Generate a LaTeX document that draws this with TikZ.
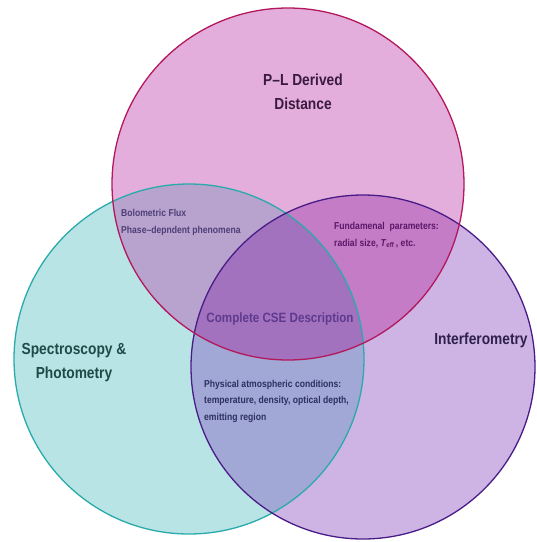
\documentclass[tikz,border=0pt]{standalone}
\usepackage{fontspec}
\setmainfont{Liberation Sans}[FakeStretch=0.86]
\usepackage{tikz}
\usetikzlibrary{positioning}

\definecolor{plfill}{HTML}{E3AEDB}
\definecolor{plline}{HTML}{B3185C}
\definecolor{spfill}{HTML}{B9E4E6}
\definecolor{spline}{HTML}{2AAAAA}
\definecolor{iffill}{HTML}{CDB4E4}
\definecolor{ifline}{HTML}{4A1C88}
\definecolor{plsp}{HTML}{B8A2CE}
\definecolor{plif}{HTML}{C47CC6}
\definecolor{spif}{HTML}{A2A8D6}
\definecolor{allthree}{HTML}{A272BE}
\definecolor{pltext}{HTML}{3B1A3F}
\definecolor{sptext}{HTML}{1F4A48}
\definecolor{iftext}{HTML}{2E1F4E}
\definecolor{bolotext}{HTML}{4E3F78}
\definecolor{fundtext}{HTML}{5B1768}
\definecolor{phystext}{HTML}{2C2F5F}
\definecolor{csetext}{HTML}{5E3A8E}

\begin{document}
\begin{tikzpicture}[x=1pt,y=-1pt,
  title/.style={font=\bfseries\fontsize{16}{24}\selectfont,align=center},
  note/.style={font=\bfseries\fontsize{10}{16.5}\selectfont,align=left,anchor=west,inner sep=0pt}]
  \useasboundingbox (0,0) rectangle (537,542);
  \coordinate (pl) at (288,184);
  \coordinate (sp) at (189,359);
  \coordinate (if) at (363,367);
  \def\rpl{176pt}\def\rsp{175pt}\def\rif{172pt}
  % the three sets
  \fill[plfill] (pl) circle[radius=\rpl];
  \fill[spfill] (sp) circle[radius=\rsp];
  \fill[iffill] (if) circle[radius=\rif];
  % overlaps
  \begin{scope}
    \clip (pl) circle[radius=\rpl];
    \fill[plsp] (sp) circle[radius=\rsp];
    \fill[plif] (if) circle[radius=\rif];
  \end{scope}
  \begin{scope}
    \clip (sp) circle[radius=\rsp];
    \fill[spif] (if) circle[radius=\rif];
    \clip (pl) circle[radius=\rpl];
    \fill[allthree] (if) circle[radius=\rif];
  \end{scope}
  % outlines
  \draw[spline,line width=1.3pt] (sp) circle[radius=\rsp];
  \draw[ifline,line width=1.3pt] (if) circle[radius=\rif];
  \draw[plline,line width=1.3pt] (pl) circle[radius=\rpl];
  % labels
  \node[title,text=pltext] (pltitle) at (303,92) {P--L Derived\\Distance};
  \node[title,text=sptext] (sptitle) at (74,363) {Spectroscopy \&\\Photometry};
  \node[title,text=iftext] (iftitle) at (481,340) {Interferometry};
  \node[note,text=bolotext] (bolo) at (121,222.5) {Bolometric Flux\\Phase--depndent phenomena};
  \node[note,text=fundtext] (fund) at (334,235) {Fundamenal\ \ parameters:\\radial size, \textit{T}\textsubscript{eff}\,, etc.};
  \node[note,text=phystext] (phys) at (204,401) {Physical atmospheric conditions:\\temperature, density, optical depth,\\emitting region};
  \node[font=\bfseries\fontsize{13.5}{16}\selectfont,text=csetext] (cse) at (280,319) {Complete CSE Description};
\end{tikzpicture}
\end{document}
